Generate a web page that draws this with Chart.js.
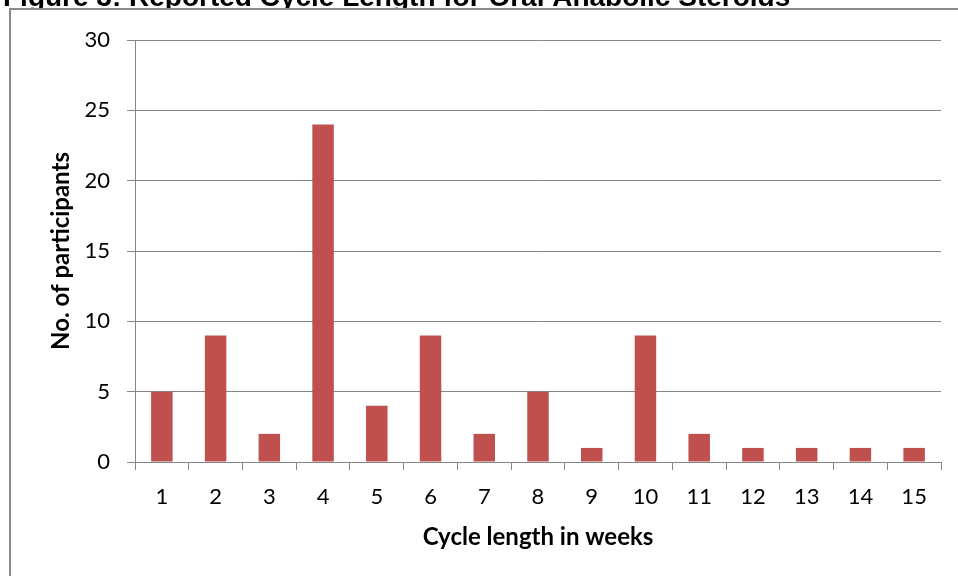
<!DOCTYPE html>
<html>
<head>
<meta charset="utf-8">
<script src="https://cdn.jsdelivr.net/npm/chart.js@4"></script>
<style>
  body { margin: 0; background: #fff; }
  canvas { display: block; }
</style>
</head>
<body>
<canvas id="cycleChart" width="958" height="576"></canvas>
<script>
// data
const chartTitle = 'Figure 3: Reported Cycle Length for Oral Anabolic Steroids';
const weeks = ['1', '2', '3', '4', '5', '6', '7', '8', '9', '10', '11', '12', '13', '14', '15'];
const participants = [5, 9, 2, 24, 4, 9, 2, 5, 1, 9, 2, 1, 1, 1, 1];
const yTicks = [0, 5, 10, 15, 20, 25, 30];

const gridGrey = '#868686';
const tickFont = { family: 'Lato', size: 22 };
const titleFont = { family: 'Lato', size: 24, weight: 'bold' };

// white page, outer frame and the clipped figure caption
const framePlugin = {
    id: 'frame',
    beforeDraw(chart) {
        const ctx = chart.ctx;
        ctx.save();
        ctx.fillStyle = '#ffffff';
        ctx.fillRect(0, 0, chart.width, chart.height);

        // caption is cut off by the top of the picture
        ctx.save();
        ctx.beginPath();
        ctx.rect(0, 0, chart.width, 8);
        ctx.clip();
        ctx.fillStyle = '#000000';
        ctx.font = 'bold 28px "Liberation Sans", Arial, sans-serif';
        ctx.textBaseline = 'alphabetic';
        ctx.textAlign = 'left';
        ctx.fillText(chartTitle, 3, 6);
        ctx.restore();

        ctx.strokeStyle = '#898989';
        ctx.lineWidth = 2;
        ctx.beginPath();
        ctx.moveTo(10, chart.height);
        ctx.lineTo(10, 9);
        ctx.lineTo(chart.width, 9);
        ctx.stroke();
        ctx.restore();
    }
};

const ctx = document.getElementById('cycleChart').getContext('2d');
new Chart(ctx, {
    type: 'bar',
    data: {
        labels: weeks,
        datasets: [{
            label: 'No. of participants',
            data: participants,
            backgroundColor: '#C0504D',
            borderWidth: 0,
            barPercentage: 0.4,
            categoryPercentage: 1.0
        }]
    },
    options: {
        responsive: false,
        animation: false,
        layout: { padding: { left: 0, top: 40, right: 17, bottom: 0 } },
        scales: {
            x: {
                offset: true,
                grid: {
                    offset: true,
                    drawOnChartArea: false,
                    drawTicks: true,
                    tickLength: 8,
                    color: gridGrey,
                    lineWidth: 1
                },
                border: { display: true, color: gridGrey, width: 1 },
                ticks: { color: '#000', font: tickFont, padding: 14, maxRotation: 0 },
                title: {
                    display: true,
                    text: 'Cycle length in weeks',
                    color: '#000',
                    font: titleFont,
                    padding: { top: 0, bottom: 24 }
                },
                afterFit(scale) { scale.height = 114; }
            },
            y: {
                min: 0,
                max: 30,
                afterBuildTicks(scale) { scale.ticks = yTicks.map(v => ({ value: v })); },
                grid: {
                    color: gridGrey,
                    lineWidth: 1,
                    tickLength: 8
                },
                border: { display: true, color: gridGrey, width: 1 },
                ticks: { color: '#000', font: tickFont, padding: 17 },
                title: {
                    display: true,
                    text: 'No. of participants',
                    color: '#000',
                    font: titleFont,
                    padding: { top: 47, bottom: 0 }
                },
                afterFit(scale) { scale.width = 135; }
            }
        },
        plugins: {
            legend: { display: false },
            tooltip: { enabled: false }
        }
    },
    plugins: [framePlugin]
});
</script>
</body>
</html>
